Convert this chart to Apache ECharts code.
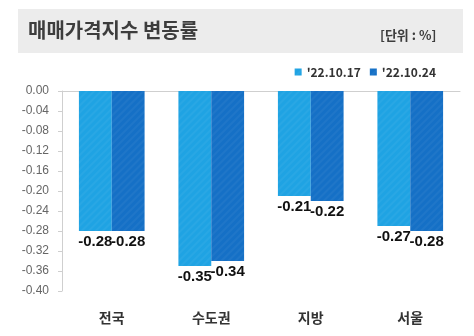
<!DOCTYPE html>
<html><head><meta charset="utf-8">
<script src="https://cdn.jsdelivr.net/npm/echarts@6/dist/echarts.min.js"></script>
<style>html,body{margin:0;padding:0;background:#fff}#c{width:474px;height:336px}</style>
</head><body><div id="c"></div>
<script>
const categories = ['전국', '수도권', '지방', '서울'];
const seriesNames = ["'22.10.17", "'22.10.24"];
const week1 = [-0.28, -0.35, -0.21, -0.27];
const week2 = [-0.28, -0.34, -0.22, -0.28];
const colors = ['#1fa3e3', '#1570c6'];

const chart = echarts.init(document.getElementById('c'), null, {renderer: 'canvas'});
const decal = {symbol: 'rect', dashArrayX: [1, 0], dashArrayY: [2, 3], rotation: -Math.PI / 4, color: 'rgba(255,255,255,0.045)'};
const labelCfg = {
  show: true, position: 'bottom', distance: 3, color: '#111',
  fontFamily: '"Liberation Sans Narrow", "Liberation Sans", sans-serif',
  fontSize: 15, fontWeight: 'bold',
  formatter: p => p.value.toFixed(2)
};
chart.setOption({
  animation: false,
  graphic: [
    {type: 'rect', shape: {x: 18, y: 9, width: 445, height: 44}, style: {fill: '#ececec'}, z: -1},
    {type: 'text', left: 28, top: 20, style: {text: '매매가격지수 변동률', font: 'bold 20px "Noto Sans CJK KR"', fill: '#3d3d3d'}},
    {type: 'text', left: 380, top: 29, style: {text: '[단위 : %]', font: 'bold 13px "Noto Sans CJK KR"', fill: '#3d3d3d'}}
  ],
  legend: {
    right: 33, top: 61, itemWidth: 7, itemHeight: 7, itemGap: 9, icon: 'rect',
    textStyle: {fontFamily: '"Noto Sans CJK KR"', fontWeight: 'bold', fontSize: 12, color: '#333'},
    data: seriesNames
  },
  grid: {left: 62, right: 14, top: 91, bottom: 45},
  xAxis: [
    {type: 'category', position: 'top', data: categories,
     axisLine: {lineStyle: {color: '#cfcfcf'}},
     axisTick: {inside: true, length: 4, lineStyle: {color: '#bbb'}},
     axisLabel: {show: false}},
    {type: 'category', position: 'bottom', data: categories,
     axisLine: {show: false}, axisTick: {show: false},
     axisLabel: {margin: 20, fontFamily: '"Noto Sans CJK KR"', fontWeight: 'bold', fontSize: 14, color: '#333'}}
  ],
  yAxis: {
    type: 'value', min: -0.4, max: 0, interval: 0.04,
    splitLine: {show: false},
    axisLine: {show: true, lineStyle: {color: '#cfcfcf'}},
    axisTick: {show: true, length: 4, lineStyle: {color: '#cfcfcf'}},
    axisLabel: {margin: 13, fontFamily: '"Liberation Sans", sans-serif', fontSize: 12, color: '#666',
      formatter: v => v.toFixed(2)}
  },
  series: [
    {name: seriesNames[0], type: 'bar', data: week1, xAxisIndex: 0, barGap: '0%', barCategoryGap: '34%',
     itemStyle: {color: colors[0], decal: decal}, label: labelCfg},
    {name: seriesNames[1], type: 'bar', data: week2, xAxisIndex: 0, barGap: '0%', barCategoryGap: '34%',
     itemStyle: {color: colors[1], decal: decal}, label: labelCfg}
  ]
});
</script></body></html>
